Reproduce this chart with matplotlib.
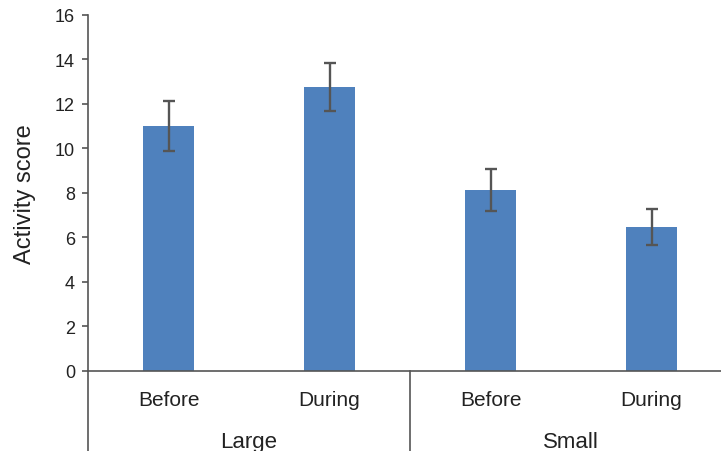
import matplotlib.pyplot as plt
import matplotlib.transforms as mtransforms
import numpy as np

plt.rcParams['font.family'] = ['Liberation Sans', 'DejaVu Sans']

# activity scores, mean and error per condition
groups = ['Large', 'Small']
phases = ['Before', 'During', 'Before', 'During']
means = [11.0, 12.75, 8.12, 6.45]
errors = [1.12, 1.1, 0.95, 0.8]

bar_color = '#4f81bd'
line_color = '#555555'
text_color = '#222222'


def draw_chart():
    fig = plt.figure(figsize=(7.21, 4.52), dpi=100)
    ax = fig.add_axes([88 / 721, 80.3 / 452, 1 - 88 / 721, 356 / 452])

    x = np.arange(len(means))
    ax.bar(x, means, width=0.32, color=bar_color, zorder=2)
    ax.errorbar(x, means, yerr=errors, fmt='none', ecolor=line_color,
                elinewidth=1.7, capsize=4, capthick=1.7, zorder=3)

    ax.set_xlim(-0.5, -0.5 + (721 - 88) / 161)
    ax.set_ylim(0, 16)
    ax.set_yticks(np.arange(0, 17, 2))

    for s in ['top', 'right']:
        ax.spines[s].set_visible(False)
    for s in ['left', 'bottom']:
        ax.spines[s].set_color(line_color)
        ax.spines[s].set_linewidth(1.2)

    ax.tick_params(axis='y', direction='out', length=4.3, width=1.2,
                   color=line_color, labelsize=13, labelcolor=text_color, pad=5)
    ax.set_xticks(x)
    ax.set_xticklabels([])
    ax.tick_params(axis='x', length=0)

    # y label, placed by hand so its centre sits left of the tick labels
    ax.text(-63 / 633, 0.5, 'Activity score', transform=ax.transAxes, rotation=90,
            ha='center', va='center', fontsize=17, color=text_color)

    # phase labels, group labels and dividers under the x axis
    trans = mtransforms.blended_transform_factory(ax.transData, ax.transAxes)
    for xi, p in zip(x, phases):
        ax.text(xi, -0.0963, p, transform=trans, ha='center', va='baseline',
                fontsize=15, color=text_color)
    for i, g in enumerate(groups):
        ax.text(2 * i + 0.5, -0.214, g, transform=trans, ha='center', va='baseline',
                fontsize=16, color=text_color)
    for xv in [-0.5, 1.5]:
        ax.plot([xv, xv], [0, -0.23], transform=trans, color=line_color,
                linewidth=1.2, clip_on=False)

    fig.savefig('out.png', dpi=100)


if __name__ == '__main__':
    draw_chart()
